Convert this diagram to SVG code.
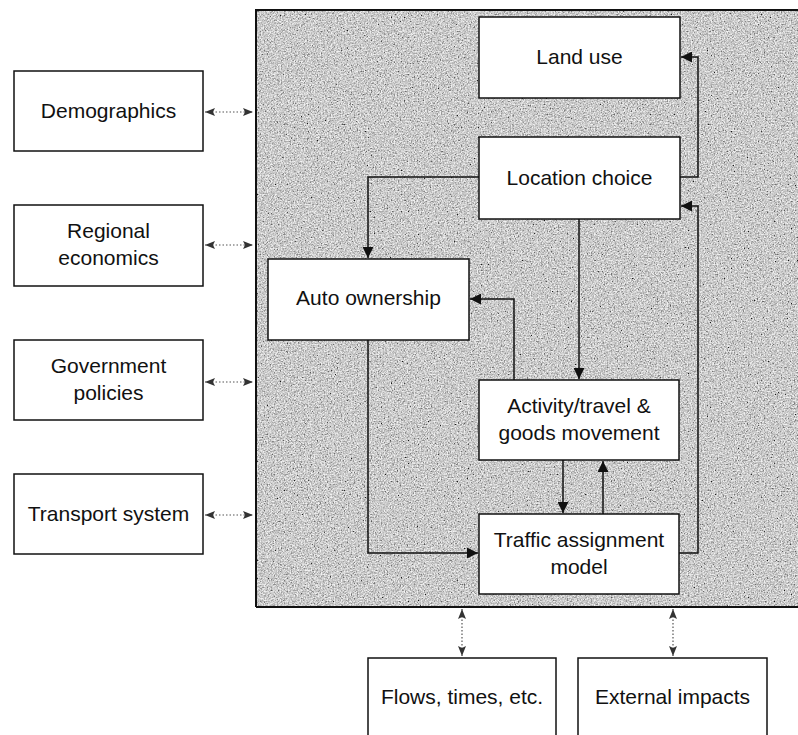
<svg xmlns="http://www.w3.org/2000/svg" width="798" height="735" viewBox="0 0 798 735">
<style>
.box{fill:#fff;stroke:#111;stroke-width:1.5}
.lbl{font-family:"Liberation Sans",Arial,sans-serif;font-size:21px;fill:#111;text-anchor:middle}
.conn{fill:none;stroke:#111;stroke-width:1.5}
.dot{fill:none;stroke:#555;stroke-width:1.2;stroke-dasharray:1.5 2}
</style>
<defs>
<marker id="ah" viewBox="0 0 10 10" refX="10" refY="5" markerWidth="12" markerHeight="11" markerUnits="userSpaceOnUse" orient="auto-start-reverse">
<path d="M0,0 L10,5 L0,10 z" fill="#111"/>
</marker>
<marker id="dh" viewBox="0 0 10 10" refX="10" refY="5" markerWidth="13" markerHeight="10" markerUnits="userSpaceOnUse" orient="auto-start-reverse">
<path d="M0,1 L10,5 L0,9 L2,5 z" fill="#333"/>
</marker>
<filter id="noise" x="0" y="0" width="100%" height="100%">
<feTurbulence type="fractalNoise" baseFrequency="0.7" numOctaves="3" seed="7"/>
<feColorMatrix type="matrix" values="0.33 0.33 0.33 0 0  0.33 0.33 0.33 0 0  0.33 0.33 0.33 0 0  0 0 0 0 1"/>
<feComponentTransfer>
<feFuncR type="linear" slope="2.8" intercept="-0.75"/>
<feFuncG type="linear" slope="2.8" intercept="-0.75"/>
<feFuncB type="linear" slope="2.8" intercept="-0.75"/>
</feComponentTransfer>
</filter>
</defs>

<g id="model-frame">
<rect x="256" y="10" width="545" height="597" fill="#a8a8a8"/>
<rect x="256" y="10" width="545" height="597" filter="url(#noise)" opacity="0.85"/>
<path d="M256,607 L256,10 L800,10" fill="none" stroke="#111" stroke-width="2"/>
<line x1="256" y1="607" x2="800" y2="607" stroke="#111" stroke-width="2"/>
</g>

<g id="connectors">
<line class="dot" x1="205" y1="112" x2="253" y2="112" marker-start="url(#dh)" marker-end="url(#dh)"/>
<line class="dot" x1="205" y1="245" x2="253" y2="245" marker-start="url(#dh)" marker-end="url(#dh)"/>
<line class="dot" x1="205" y1="382" x2="253" y2="382" marker-start="url(#dh)" marker-end="url(#dh)"/>
<line class="dot" x1="205" y1="515" x2="253" y2="515" marker-start="url(#dh)" marker-end="url(#dh)"/>
<line class="dot" x1="462" y1="609" x2="462" y2="656" marker-start="url(#dh)" marker-end="url(#dh)"/>
<line class="dot" x1="673" y1="609" x2="673" y2="656" marker-start="url(#dh)" marker-end="url(#dh)"/>
<polyline class="conn" points="680,177 698,177 698,57 681,57" marker-end="url(#ah)"/>
<polyline class="conn" points="679,553 698,553 698,206 681,206" marker-end="url(#ah)"/>
<polyline class="conn" points="479,177 368,177 368,258" marker-end="url(#ah)"/>
<line class="conn" x1="579" y1="219" x2="579" y2="379" marker-end="url(#ah)"/>
<polyline class="conn" points="514,380 514,299 470,299" marker-end="url(#ah)"/>
<polyline class="conn" points="368,340 368,553 478,553" marker-end="url(#ah)"/>
<line class="conn" x1="563" y1="460" x2="563" y2="513" marker-end="url(#ah)"/>
<line class="conn" x1="603" y1="514" x2="603" y2="461" marker-end="url(#ah)"/>
</g>

<g id="demographics">
<rect class="box" x="14" y="71" width="189" height="80"/>
<text class="lbl" x="108.5" y="118">Demographics</text>
</g>
<g id="regional-economics">
<rect class="box" x="14" y="205" width="189" height="81"/>
<text class="lbl" x="108.5" y="238">Regional</text>
<text class="lbl" x="108.5" y="265">economics</text>
</g>
<g id="government-policies">
<rect class="box" x="14" y="340" width="189" height="80"/>
<text class="lbl" x="108.5" y="373">Government</text>
<text class="lbl" x="108.5" y="400">policies</text>
</g>
<g id="transport-system">
<rect class="box" x="14" y="474" width="189" height="80"/>
<text class="lbl" x="108.5" y="521">Transport system</text>
</g>
<g id="land-use">
<rect class="box" x="479" y="17" width="201" height="81"/>
<text class="lbl" x="579.5" y="64">Land use</text>
</g>
<g id="location-choice">
<rect class="box" x="479" y="137" width="201" height="82"/>
<text class="lbl" x="579.5" y="185">Location choice</text>
</g>
<g id="auto-ownership">
<rect class="box" x="268" y="259" width="201" height="81"/>
<text class="lbl" x="368.5" y="305">Auto ownership</text>
</g>
<g id="activity-travel">
<rect class="box" x="479" y="380" width="200" height="80"/>
<text class="lbl" x="579" y="413">Activity/travel &amp;</text>
<text class="lbl" x="579" y="440">goods movement</text>
</g>
<g id="traffic-assignment">
<rect class="box" x="479" y="514" width="200" height="80"/>
<text class="lbl" x="579" y="547">Traffic assignment</text>
<text class="lbl" x="579" y="574">model</text>
</g>
<g id="flows-times">
<rect class="box" x="368" y="658" width="188" height="90"/>
<text class="lbl" x="462" y="704">Flows, times, etc.</text>
</g>
<g id="external-impacts">
<rect class="box" x="578" y="658" width="189" height="90"/>
<text class="lbl" x="672.5" y="704">External impacts</text>
</g>
</svg>
